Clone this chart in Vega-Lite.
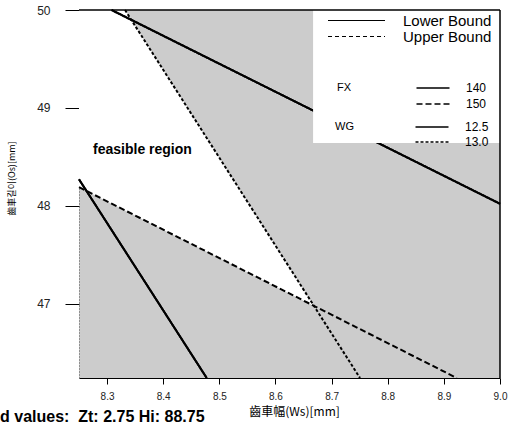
{
  "$schema": "https://vega.github.io/schema/vega-lite/v6.json",
  "width": 421,
  "height": 368,
  "autosize": "none",
  "padding": {"left": 79, "top": 10, "right": 9, "bottom": 52},
  "background": "white",
  "title": {
    "text": "Fixed values:\u00a0\u00a0Zt: 2.75 Hi: 88.75",
    "orient": "bottom", "anchor": "start", "frame": "group",
    "dx": -111, "offset": -8,
    "font": "Liberation Sans", "fontSize": 16, "fontWeight": "bold", "color": "black"
  },
  "datasets": {
    "feasible": [
      {"x": 8.25, "lo": 48.19, "hi": 50},
      {"x": 8.332, "lo": 47.952, "hi": 50},
      {"x": 8.668, "lo": 46.978, "hi": 46.978}
    ],
    "lines": [
      {"id": "FX140", "group": "FX", "level": "140", "bound": "Lower Bound", "x": 8.308, "y": 50},
      {"id": "FX140", "group": "FX", "level": "140", "bound": "Lower Bound", "x": 9.0, "y": 48.02},
      {"id": "FX150", "group": "FX", "level": "150", "bound": "Upper Bound", "x": 8.25, "y": 48.19},
      {"id": "FX150", "group": "FX", "level": "150", "bound": "Upper Bound", "x": 8.923, "y": 46.24},
      {"id": "WG125", "group": "WG", "level": "12.5", "bound": "Lower Bound", "x": 8.25, "y": 48.27},
      {"id": "WG125", "group": "WG", "level": "12.5", "bound": "Lower Bound", "x": 8.4775, "y": 46.24},
      {"id": "WG130", "group": "WG", "level": "13.0", "bound": "Upper Bound", "x": 8.332, "y": 50},
      {"id": "WG130", "group": "WG", "level": "13.0", "bound": "Upper Bound", "x": 8.7506, "y": 46.24}
    ]
  },
  "resolve": {
    "scale": {"strokeDash": "independent"},
    "legend": {"strokeDash": "independent"}
  },
  "layer": [
    {
      "data": {"name": "feasible"},
      "mark": {"type": "area", "color": "white", "interpolate": "linear"},
      "encoding": {
        "x": {
          "field": "x", "type": "quantitative",
          "scale": {"domain": [8.25, 9.0], "nice": false, "zero": false},
          "axis": {
            "values": [8.3, 8.4, 8.5, 8.6, 8.7, 8.8, 8.9, 9.0],
            "format": ".1f",
            "title": "齒車幅(Ws)[mm]",
            "tickSize": 6, "labelPadding": 7, "labelFontSize": 10, "labelFlush": false,
            "titleFont": "Noto Sans CJK KR", "titleFontSize": 12, "titleFontWeight": "normal",
            "titlePadding": 5, "titleX": 215, "domainColor": "#000"
          }
        },
        "y": {
          "field": "hi", "type": "quantitative",
          "scale": {"domain": [46.24, 50], "nice": false, "zero": false},
          "axis": {
            "values": [47, 48, 49, 50],
            "format": "d",
            "title": "齒車길이(Os)[mm]",
            "tickSize": 14, "labelPadding": 15, "labelFontSize": 12,
            "domainDash": [1, 2], "domainColor": "#555",
            "titleFont": "Noto Sans CJK KR", "titleFontSize": 9, "titleFontWeight": "normal",
            "titleX": -63, "titleY": 168
          }
        },
        "y2": {"field": "lo"}
      }
    },
    {
      "data": {"name": "lines"},
      "transform": [{"filter": "datum.bound === 'Lower Bound'"}],
      "mark": {"type": "line", "color": "black", "strokeWidth": 2},
      "encoding": {
        "x": {"field": "x", "type": "quantitative"},
        "y": {"field": "y", "type": "quantitative"},
        "detail": {"field": "id"},
        "strokeDash": {
          "field": "bound", "type": "nominal",
          "scale": {"domain": ["Lower Bound", "Upper Bound"], "range": [[1, 0], [4, 3]]},
          "legend": {
            "orient": "none", "legendX": 270, "legendY": 3, "padding": 0,
            "title": null,
            "symbolType": "M-9.5,0L9.5,0", "symbolSize": 36,
            "symbolStrokeWidth": 1.2, "symbolStrokeColor": "black", "symbolFillColor": "transparent",
            "labelFont": "Liberation Sans", "labelFontSize": 15, "labelColor": "black",
            "labelOffset": 39, "rowPadding": -6
          }
        }
      }
    },
    {
      "data": {"name": "lines"},
      "transform": [{"filter": "datum.group === 'FX'"}],
      "mark": {"type": "line", "color": "black", "strokeWidth": 2},
      "encoding": {
        "x": {"field": "x", "type": "quantitative"},
        "y": {"field": "y", "type": "quantitative"},
        "detail": {"field": "id"},
        "strokeDash": {
          "field": "level", "type": "nominal",
          "scale": {"domain": ["140", "150"], "range": [[1, 0], [6, 3]]},
          "legend": {
            "orient": "none", "legendX": 258, "legendY": 72, "padding": 0,
            "title": "FX", "titleOrient": "left", "titleAnchor": "start", "titleBaseline": "top",
            "titleFont": "Liberation Sans", "titleFontSize": 11, "titleFontWeight": "normal",
            "titlePadding": 75,
            "encode": {"title": {"update": {"angle": {"value": 0}}}},
            "symbolType": "M-5.5,0L5.5,0", "symbolSize": 36,
            "symbolStrokeWidth": 1.6, "symbolStrokeColor": "black", "symbolFillColor": "transparent",
            "labelFont": "Liberation Sans", "labelFontSize": 12, "labelColor": "black",
            "labelOffset": 27, "rowPadding": 4
          }
        }
      }
    },
    {
      "data": {"name": "lines"},
      "transform": [{"filter": "datum.group === 'WG'"}],
      "mark": {"type": "line", "color": "black", "strokeWidth": 2},
      "encoding": {
        "x": {"field": "x", "type": "quantitative"},
        "y": {"field": "y", "type": "quantitative"},
        "detail": {"field": "id"},
        "strokeDash": {
          "field": "level", "type": "nominal",
          "scale": {"domain": ["12.5", "13.0"], "range": [[1, 0], [3, 2]]},
          "legend": {
            "orient": "none", "legendX": 256, "legendY": 111, "padding": 0,
            "title": "WG", "titleOrient": "left", "titleAnchor": "start", "titleBaseline": "top",
            "titleFont": "Liberation Sans", "titleFontSize": 11, "titleFontWeight": "normal",
            "titlePadding": 72,
            "encode": {"title": {"update": {"angle": {"value": 0}}}},
            "symbolType": "M-5.5,0L5.5,0", "symbolSize": 36,
            "symbolStrokeWidth": 1.6, "symbolStrokeColor": "black", "symbolFillColor": "transparent",
            "labelFont": "Liberation Sans", "labelFontSize": 12, "labelColor": "black",
            "labelOffset": 27, "rowPadding": 3
          }
        }
      }
    },
    {
      "data": {"values": [{}]},
      "mark": {"type": "rect", "color": "white"},
      "encoding": {
        "x": {"datum": 8.667, "type": "quantitative"},
        "x2": {"datum": 9.0},
        "y": {"datum": 48.64, "type": "quantitative"},
        "y2": {"datum": 50}
      }
    },
    {
      "data": {"values": [{}]},
      "mark": {"type": "rule", "color": "black", "strokeWidth": 1.5},
      "encoding": {"y": {"datum": 50, "type": "quantitative"}}
    },
    {
      "data": {"values": [{}]},
      "mark": {"type": "rule", "color": "black", "strokeWidth": 1.5},
      "encoding": {"x": {"datum": 9.0, "type": "quantitative"}}
    },
    {
      "data": {"values": [{}]},
      "mark": {
        "type": "text", "text": "feasible region", "align": "left", "baseline": "alphabetic",
        "font": "Liberation Sans", "fontSize": 14, "fontWeight": "bold", "color": "black"
      },
      "encoding": {
        "x": {"datum": 8.275, "type": "quantitative"},
        "y": {"datum": 48.53, "type": "quantitative"}
      }
    }
  ],
  "config": {
    "view": {"fill": "#cccccc", "stroke": null},
    "font": "Liberation Sans",
    "axis": {
      "grid": false,
      "labelFont": "Liberation Sans",
      "labelColor": "#222",
      "tickColor": "#000",
      "titleColor": "#000"
    }
  }
}
